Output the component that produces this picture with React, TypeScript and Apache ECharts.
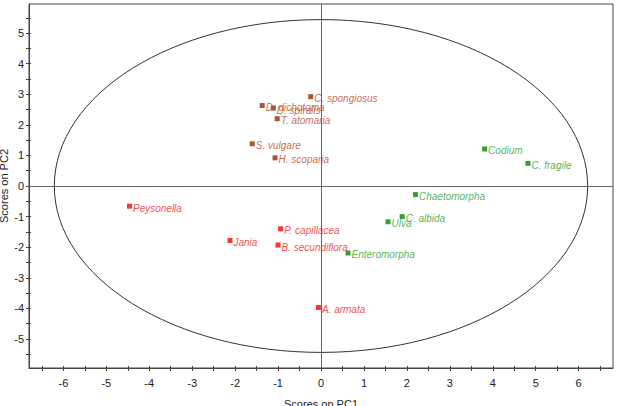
import React, { useEffect, useRef } from "react";
import * as echarts from "echarts";

// PCA scores (PC1, PC2)
const brownNames = ["C. spongiosus", "D. dichotoma", "D. spiralis", "T. atomaria", "S. vulgare", "H. scoparia"];
const brownPC1 = [-0.24, -1.37, -1.11, -1.02, -1.6, -1.07];
const brownPC2 = [2.92, 2.63, 2.55, 2.2, 1.38, 0.92];

const redNames = ["Peysonella", "P. capillacea", "Jania", "B. secundiflora", "A. armata"];
const redPC1 = [-4.46, -0.94, -2.12, -1.0, -0.06];
const redPC2 = [-0.66, -1.4, -1.78, -1.93, -3.97];

const greenNames = ["Codium", "C. fragile", "Chaetomorpha", "C. albida", "Ulva", "Enteromorpha"];
const greenPC1 = [3.81, 4.82, 2.2, 1.89, 1.56, 0.63];
const greenPC2 = [1.21, 0.74, -0.28, -1.0, -1.17, -2.19];

// Confidence ellipse: centre and semi-axes (in score units)
const ellipseCentre = [0, 0];
const ellipseSemiAxes = [6.21, 5.44];

const xRange = [-6.8, 6.8];
const yRange = [-5.95, 5.95];

// tick labels and tick positions
const xTickLabels = [-6, -5, -4, -3, -2, -1, 0, 1, 2, 3, 4, 5, 6];
const xTicks = [-6.5, -6, -5.5, -5, -4.5, -4, -3.5, -3, -2.5, -2, -1.5, -1, -0.5, 0, 0.5, 1, 1.5, 2, 2.5, 3, 3.5, 4, 4.5, 5, 5.5, 6, 6.5];
const yTickLabels = [-5, -4, -3, -2, -1, 0, 1, 2, 3, 4, 5];
const yTicks = [-5.5, -5, -4.5, -4, -3.5, -3, -2.5, -2, -1.5, -1, -0.5, 0, 0.5, 1, 1.5, 2, 2.5, 3, 3.5, 4, 4.5, 5, 5.5];

const FONT = "Liberation Sans, Arial, sans-serif";

function buildData(names: string[], xs: number[], ys: number[]) {
  return names.map((n, i) => ({ name: n, value: [xs[i], ys[i]] }));
}

function scatter(name: string, names: string[], xs: number[], ys: number[], markerColor: string, textColor: string) {
  return {
    name,
    type: "scatter",
    symbol: "rect",
    symbolSize: 5,
    itemStyle: { color: markerColor },
    data: buildData(names, xs, ys),
    z: 5,
    label: {
      show: true,
      position: "right",
      distance: 1,
      offset: [0, 2],
      formatter: (p: any) => p.name,
      color: textColor,
      fontStyle: "italic",
      fontSize: 10,
      fontFamily: FONT,
    },
  };
}

export default function App() {
  const ref = useRef<HTMLDivElement>(null);
  useEffect(() => {
    if (!ref.current) return;
    const chart = echarts.init(ref.current, undefined, { renderer: "svg" });
    const tickStyle = { color: "#444" };
    chart.setOption({
      animation: false,
      backgroundColor: "#ffffff",
      grid: {
        left: 29,
        right: 4,
        top: 4,
        bottom: 38,
        show: true,
        borderColor: "#444",
        borderWidth: 1,
        containLabel: false,
        outerBoundsMode: "none",
      },
      xAxis: [
        {
          type: "value",
          min: xRange[0],
          max: xRange[1],
          position: "bottom",
          splitLine: { show: false },
          name: "Scores on PC1",
          nameLocation: "middle",
          nameGap: 30,
          nameTextStyle: { fontFamily: FONT, fontSize: 11, color: "#222" },
          axisLine: { show: true, onZero: false, lineStyle: { color: "#444", width: 1 } },
          axisTick: { show: true, length: 3, customValues: xTicks, lineStyle: tickStyle },
          axisLabel: { customValues: xTickLabels, margin: 9, fontFamily: FONT, fontSize: 11, color: "#222" },
        },
        {
          type: "value",
          min: xRange[0],
          max: xRange[1],
          position: "bottom",
          splitLine: { show: false },
          axisLine: { show: false, onZero: false },
          axisTick: { show: true, inside: true, length: 2, customValues: xTicks, lineStyle: tickStyle },
          axisLabel: { show: false },
        },
      ],
      yAxis: [
        {
          type: "value",
          min: yRange[0],
          max: yRange[1],
          position: "left",
          splitLine: { show: false },
          name: "Scores on PC2",
          nameLocation: "middle",
          nameGap: 20,
          nameMoveOverlap: false,
          nameTextStyle: { fontFamily: FONT, fontSize: 11, color: "#222" },
          axisLine: { show: true, onZero: false, lineStyle: { color: "#444", width: 1 } },
          axisTick: { show: true, length: 3, customValues: yTicks, lineStyle: tickStyle },
          axisLabel: { customValues: yTickLabels, margin: 5, fontFamily: FONT, fontSize: 11, color: "#222" },
        },
        {
          type: "value",
          min: yRange[0],
          max: yRange[1],
          position: "left",
          splitLine: { show: false },
          axisLine: { show: false, onZero: false },
          axisTick: { show: true, inside: true, length: 2, customValues: yTicks, lineStyle: tickStyle },
          axisLabel: { show: false },
        },
      ],
      series: [
        {
          type: "custom",
          name: "ellipse",
          silent: true,
          z: 2,
          data: [[ellipseCentre[0], ellipseCentre[1], ellipseSemiAxes[0], ellipseSemiAxes[1]]],
          encode: { x: 0, y: 1 },
          renderItem: (params: any, api: any) => {
            const cx = api.value(0);
            const cy = api.value(1);
            const c = api.coord([cx, cy]);
            const e = api.coord([cx + api.value(2), cy + api.value(3)]);
            return {
              type: "ellipse",
              shape: { cx: c[0], cy: c[1], rx: Math.abs(e[0] - c[0]), ry: Math.abs(c[1] - e[1]) },
              style: { fill: "none", stroke: "#333", lineWidth: 1 },
            };
          },
        },
        {
          type: "line",
          name: "zero",
          data: [],
          silent: true,
          markLine: {
            silent: true,
            symbol: "none",
            label: { show: false },
            lineStyle: { color: "#666", type: "solid", width: 1 },
            data: [{ xAxis: 0 }, { yAxis: 0 }],
          },
        },
        scatter("brown", brownNames, brownPC1, brownPC2, "#992b00", "#b5481e"),
        scatter("red", redNames, redPC1, redPC2, "#ff0000", "#f01818"),
        scatter("green", greenNames, greenPC1, greenPC2, "#008a00", "#2aa02a"),
      ],
    });
    return () => chart.dispose();
  }, []);
  return <div ref={ref} style={{ width: 617, height: 406, position: "absolute", left: 0, top: 0 }} />;
}
